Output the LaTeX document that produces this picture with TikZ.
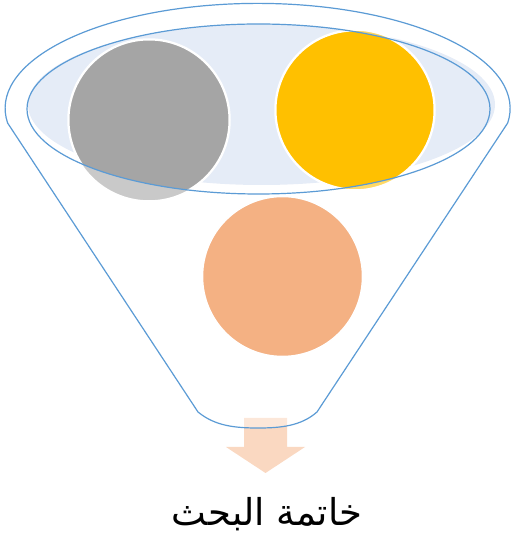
\documentclass[tikz,border=0pt]{standalone}
\usepackage{fontspec}
\newfontfamily\arabicfont[Script=Arabic]{DejaVu Sans}
\TeXXeTstate=1
\usetikzlibrary{positioning}
\definecolor{funnelblue}{HTML}{5B9BD5}
\definecolor{rimfill}{HTML}{E5ECF7}
\definecolor{ballgray}{HTML}{A5A5A5}
\definecolor{ballgold}{HTML}{FFC000}
\definecolor{ballorange}{HTML}{ED7D31}

\begin{document}
\begin{tikzpicture}[x=1pt, y=1pt,
    ball/.style={circle, draw=white, line width=1.5pt, inner sep=0pt, minimum size=#1},
    faded/.style={fill opacity=0.6, draw opacity=1},
    funnelline/.style={draw=funnelblue, line width=1.2pt}]

    \useasboundingbox (0,0) rectangle (511,541);

    % Down arrow under the funnel
    \fill[ballorange, opacity=0.3] (244,123) -- (287,123) -- (287,94) -- (305,94)
        -- (265.5,68) -- (226,94) -- (244,94) -- cycle;

    % Funnel body (slightly whitens what lies behind it)
    \fill[white, opacity=0.4] (7.6,418) arc (188:-8:252.5 and 105)
        -- (317,129) .. controls (301,115) and (281,113) .. (258,113)
        .. controls (235,113) and (215,115) .. (198,129) -- cycle;

    % Rim fill
    \fill[rimfill] (261.5,436.5) ellipse (233.5 and 80.5);

    % Circles (faded where they leave the rim)
    \node[ball=162pt, faded, fill=ballgray] (gray) at (149,421) {};
    \node[ball=160pt, faded, fill=ballgold] (gold) at (355,431) {};
    \node[ball=160pt, faded, fill=ballorange] (orange) at (282.5,264.5) {};

    % Full colour inside the rim
    \begin{scope}
        \clip (258.5,432) ellipse (231.5 and 85);
        \filldraw[fill=ballgray, draw=white, line width=1.5pt] (gray.center) circle (80.25);
        \filldraw[fill=ballgold, draw=white, line width=1.5pt] (gold.center) circle (79.25);
    \end{scope}

    % Rim outline
    \draw[funnelline] (258.5,432) ellipse (231.5 and 85);

    % Funnel outline
    \draw[funnelline, line join=round] (7.6,418) arc (188:-8:252.5 and 105)
        -- (317,129) .. controls (301,115) and (281,113) .. (258,113)
        .. controls (235,113) and (215,115) .. (198,129) -- cycle;

    % Label
    \node[anchor=base, inner sep=0pt, font=\arabicfont\fontsize{37}{44}\selectfont] (result) at (267,16) {\beginR خاتمة البحث\endR};

\end{tikzpicture}
\end{document}
